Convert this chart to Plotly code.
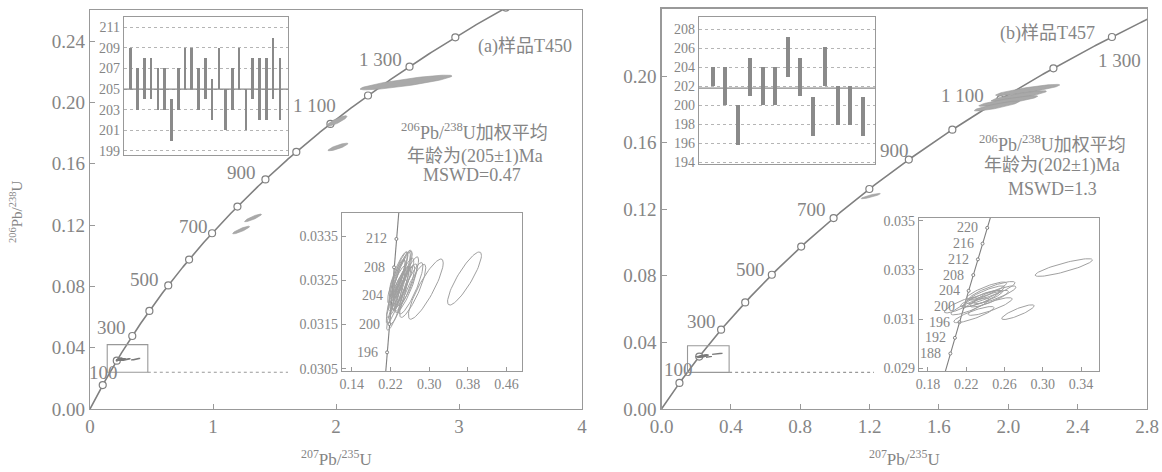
import numpy as np
import plotly.graph_objects as go

W, H = 1162, 472
OFF = 0                       # page body margin removed via post_script
L238, L235 = 1.55125e-10, 9.8485e-10   # decay constants (1/yr)

# ---------------- data : panel (a) sample T450 ----------------
bar_lo_a = [205, 203, 204, 204, 203, 203, 200, 203, 205, 205, 203, 204, 202, 205, 201, 203, 205, 201, 204, 202, 202, 204, 202]
bar_hi_a = [209, 207, 208, 208, 207, 207, 204, 207, 209, 209, 207, 208, 206, 209, 205, 207, 209, 205, 208, 208, 208, 210, 208]
mean_a = 205
# young zircon analyses (207Pb/235U, 1s-x, 206Pb/238U, 1s-y, rho)
x_a = [0.236, 0.241, 0.232, 0.247, 0.266, 0.243, 0.229, 0.252, 0.238, 0.245, 0.293, 0.234,
       0.231, 0.373, 0.228, 0.249, 0.242, 0.236, 0.256, 0.262, 0.239, 0.244, 0.233]
sx_a = [0.019, 0.017, 0.018, 0.021, 0.027, 0.019, 0.017, 0.023, 0.018, 0.020, 0.036, 0.017,
        0.019, 0.035, 0.017, 0.021, 0.019, 0.018, 0.022, 0.025, 0.020, 0.019, 0.018]
y_a = [0.03264, 0.03232, 0.03248, 0.03248, 0.03226, 0.03232, 0.03185, 0.03232, 0.03264, 0.03264, 0.03230, 0.03248,
       0.03216, 0.03254, 0.03201, 0.03232, 0.03264, 0.03201, 0.03248, 0.03232, 0.03232, 0.03264, 0.03232]
sy_a = [0.00050, 0.00048, 0.00050, 0.00052, 0.00060, 0.00050, 0.00048, 0.00055, 0.00050, 0.00052, 0.00068, 0.00048,
        0.00050, 0.00060, 0.00048, 0.00052, 0.00050, 0.00050, 0.00055, 0.00058, 0.00050, 0.00054, 0.00050]
rho_a = [0.87] * 23
# old (inherited) zircons, filled ellipses
ox_a = [2.569, 2.008, 2.016, 1.325, 1.228]
osx_a = [0.374, 0.081, 0.081, 0.069, 0.069]
oy_a = [0.2131, 0.1880, 0.1710, 0.1247, 0.1168]
osy_a = [0.0048, 0.0034, 0.0025, 0.0025, 0.0025]
orho_a = [0.88, 0.87, 0.86, 0.90, 0.90]
box_a = [0.14, 0.47, 0.024, 0.042]

# ---------------- data : panel (b) sample T457 ----------------
bar_lo_b = [202, 200, 195.8, 201, 200, 200, 203, 201, 196.8, 202, 197.9, 197.9, 196.8]
bar_hi_b = [204, 204, 200, 205, 204, 204, 207.2, 205, 200.9, 206.1, 202, 202, 200.9]
mean_b = 201.8
x_b = [0.240, 0.236, 0.228, 0.247, 0.244, 0.236, 0.322, 0.250, 0.274, 0.241, 0.224, 0.245, 0.214]
sx_b = [0.020, 0.022, 0.021, 0.024, 0.020, 0.019, 0.030, 0.022, 0.017, 0.021, 0.020, 0.023, 0.017]
y_b = [0.03199, 0.03183, 0.03118, 0.03215, 0.03183, 0.03183, 0.03310, 0.03199, 0.03128, 0.03215, 0.03151, 0.03151, 0.03157]
sy_b = [0.00036, 0.00034, 0.00033, 0.00038, 0.00034, 0.00034, 0.00036, 0.00036, 0.00030, 0.00036, 0.00034, 0.00036, 0.00032]
rho_b = [0.86] * 13
ox_b = [2.112, 2.060, 2.000, 1.934, 1.207]
osx_b = [0.185, 0.160, 0.170, 0.130, 0.055]
oy_b = [0.1916, 0.1880, 0.1850, 0.1820, 0.1279]
osy_b = [0.0034, 0.0032, 0.0032, 0.0030, 0.0016]
orho_b = [0.89, 0.89, 0.89, 0.89, 0.89]
box_b = [0.15, 0.39, 0.022, 0.038]

# concordia age markers / labels
marker_ages_a = [100, 200, 300, 400, 500, 600, 700, 800, 900, 1000, 1100, 1200, 1300, 1400, 1500]
marker_ages_b = [100, 200, 300, 400, 500, 600, 700, 800, 900, 1000, 1100, 1200, 1300]
label_ages = [100, 300, 500, 700, 900, 1100, 1300]
label_text = ["100", "300", "500", "700", "900", "1 100", "1 300"]
inset_ages_a = [196, 200, 204, 208, 212]
inset_ages_b = [188, 192, 196, 200, 204, 208, 212, 216, 220]

# ---------------- styling ----------------
FONT = "Liberation Serif, Noto Sans CJK SC, serif"
TXT = "#858585"
LINE = "#999999"
CURVE = "#808080"
label_shift_a = [(1, 13), (-21, 9), (-24, 6), (-19, 7), (-24, 7), (-16, 18), (-29, 7)]
label_shift_b = [(-1, 13), (-20, 8), (-21, 5), (-22, 9), (-14, 9), (-38, 4), (8, -23)]


def conc(t_ma):
    t = np.asarray(t_ma, dtype=float) * 1e6
    return np.exp(L235 * t) - 1, np.exp(L238 * t) - 1


def ellipse(x, sx, y, sy, rho, n=72):
    th = np.linspace(0, 2 * np.pi, n)
    cov = np.array([[sx * sx, rho * sx * sy], [rho * sx * sy, sy * sy]])
    Lc = np.linalg.cholesky(cov)
    p = Lc @ np.vstack([np.cos(th), np.sin(th)])
    return x + p[0], y + p[1]


def px2x(p):
    return (p - OFF) / W


def px2y(p):
    return 1 - (p - OFF) / H


def dx(p0, p1):
    return [px2x(p0), px2x(p1)]


def dy(top, bottom):
    return [px2y(bottom), px2y(top)]


fig = go.Figure()


def add_ellipses(xs, sxs, ys, sys_, rhos, xa, ya, color, width, fill=None):
    for x, sx, y, sy, r in zip(xs, sxs, ys, sys_, rhos):
        ex, ey = ellipse(x, sx, y, sy, r)
        kw = dict(fill="toself", fillcolor=fill) if fill else {}
        fig.add_trace(go.Scatter(x=ex, y=ey, mode="lines", line=dict(color=color, width=width),
                                 xaxis=xa, yaxis=ya, hoverinfo="skip", showlegend=False, **kw))


# ---- main concordia panels
for xa, ya, tmax, mages in [("x", "y", 1560, marker_ages_a), ("x2", "y2", 1400, marker_ages_b)]:
    cx, cy = conc(np.linspace(0, tmax, 400))
    fig.add_trace(go.Scatter(x=cx, y=cy, mode="lines", line=dict(color=CURVE, width=1.6),
                             xaxis=xa, yaxis=ya, hoverinfo="skip", showlegend=False))
    mx, my = conc(mages)
    fig.add_trace(go.Scatter(x=mx, y=my, mode="markers", xaxis=xa, yaxis=ya, showlegend=False,
                             marker=dict(symbol="circle", size=7, color="white",
                                         line=dict(color=CURVE, width=1.2))))

add_ellipses(ox_a, osx_a, oy_a, osy_a, orho_a, "x", "y", "#9a9a9a", 0.6, "#a9a9a9")
add_ellipses(ox_b, osx_b, oy_b, osy_b, orho_b, "x2", "y2", "#9a9a9a", 0.6, "#a9a9a9")
add_ellipses(x_a, sx_a, y_a, sy_a, rho_a, "x", "y", "#7a7a7a", 1.2)
add_ellipses(x_b, sx_b, y_b, sy_b, rho_b, "x2", "y2", "#7a7a7a", 1.2)

# ---- top insets: weighted-mean bars
fig.add_trace(go.Bar(x=list(range(1, len(bar_lo_a) + 1)), base=bar_lo_a,
                     y=[h - l for h, l in zip(bar_hi_a, bar_lo_a)], width=0.38,
                     marker=dict(color="#8a8a8a", line=dict(width=0)), xaxis="x3", yaxis="y3",
                     showlegend=False, hoverinfo="skip"))
fig.add_trace(go.Bar(x=list(range(1, len(bar_lo_b) + 1)), base=bar_lo_b,
                     y=[h - l for h, l in zip(bar_hi_b, bar_lo_b)], width=0.32,
                     marker=dict(color="#8a8a8a", line=dict(width=0)), xaxis="x5", yaxis="y5",
                     showlegend=False, hoverinfo="skip"))

# ---- bottom insets: zoomed concordia + ellipses
for xa, ya, ages in [("x4", "y4", inset_ages_a), ("x6", "y6", inset_ages_b)]:
    cx, cy = conc(np.linspace(170, 235, 200))
    fig.add_trace(go.Scatter(x=cx, y=cy, mode="lines", line=dict(color=CURVE, width=1.1),
                             xaxis=xa, yaxis=ya, hoverinfo="skip", showlegend=False))
    mx, my = conc(ages)
    fig.add_trace(go.Scatter(x=mx, y=my, mode="markers", xaxis=xa, yaxis=ya, showlegend=False,
                             marker=dict(symbol="circle", size=3, color="white",
                                         line=dict(color=CURVE, width=1))))
add_ellipses(x_a, sx_a, y_a, sy_a, rho_a, "x4", "y4", "#a0a0a0", 1.0)
add_ellipses(x_b, sx_b, y_b, sy_b, rho_b, "x6", "y6", "#a0a0a0", 1.0)

# ---------------- axes ----------------
dom_a = dx(90, 582)
dom_b = dx(661.5, 1147)
tickfont = dict(family=FONT, size=19, color=TXT)
smallfont = dict(family=FONT, size=14, color=TXT)
common = dict(showline=True, mirror=True, linecolor=LINE, linewidth=1.2, zeroline=False,
              showgrid=False, ticks="inside", ticklen=5, tickcolor=LINE, automargin=False)
frame_only = dict(showline=True, mirror=True, linecolor=LINE, linewidth=1.2, zeroline=False,
                  ticks="", automargin=False)

fig.update_layout(
    width=W, height=H, margin=dict(l=0, r=0, t=0, b=0, pad=0, autoexpand=False),
    paper_bgcolor="white", plot_bgcolor="white", showlegend=False, bargap=0,
    xaxis=dict(domain=dom_a, range=[0, 4], tickvals=[0, 1, 2, 3, 4], anchor="y", tickfont=tickfont, **common),
    yaxis=dict(domain=dy(10, 409), range=[0, 0.2604], tickvals=[0, 0.04, 0.08, 0.12, 0.16, 0.20, 0.24],
               tickformat=".2f", anchor="x", tickfont=tickfont, **common),
    xaxis2=dict(domain=dom_b, range=[0, 2.8], tickvals=[0, 0.4, 0.8, 1.2, 1.6, 2.0, 2.4, 2.8],
                tickformat=".1f", anchor="y2", tickfont=tickfont, **common),
    yaxis2=dict(domain=dy(8.6, 409), range=[0, 0.2405], tickvals=[0, 0.04, 0.08, 0.12, 0.16, 0.20, 0.24],
                tickformat=".2f", anchor="x2", tickfont=tickfont, **common),
    xaxis3=dict(domain=dx(124, 288), range=[0, 24.2], anchor="y3", showticklabels=False, showgrid=False,
                **frame_only),
    yaxis3=dict(domain=dy(17, 155), range=[198.6, 212.0], tickvals=list(range(199, 212, 2)), anchor="x3",
                showgrid=True, gridcolor="#b5b5b5", griddash="dot", gridwidth=1, tickfont=smallfont,
                **frame_only),
    xaxis4=dict(domain=dx(342, 522), range=[0.1197, 0.4919], tickvals=[0.14, 0.22, 0.30, 0.38, 0.46],
                tickformat=".2f", anchor="y4", tickfont=smallfont, **dict(common, ticklen=4)),
    yaxis4=dict(domain=dy(213, 371), range=[0.03045, 0.03402], tickvals=[0.0305, 0.0315, 0.0325, 0.0335],
                tickformat=".4f", anchor="x4", tickfont=smallfont, **dict(common, ticklen=4)),
    xaxis5=dict(domain=dx(699, 875), range=[-0.1, 14.0], anchor="y5", showticklabels=False, showgrid=False,
                **frame_only),
    yaxis5=dict(domain=dy(17, 164), range=[193.8, 209.3], tickvals=list(range(194, 209, 2)), anchor="x5",
                showgrid=True, gridcolor="#b5b5b5", griddash="dot", gridwidth=1, tickfont=smallfont,
                **frame_only),
    xaxis6=dict(domain=dx(919, 1099), range=[0.1706, 0.3588], tickvals=[0.18, 0.22, 0.26, 0.30, 0.34],
                tickformat=".2f", anchor="y6", tickfont=smallfont, **dict(common, ticklen=4)),
    yaxis6=dict(domain=dy(218, 371), range=[0.02888, 0.03512], tickvals=[0.029, 0.031, 0.033, 0.035],
                tickformat=".3f", anchor="x6", tickfont=smallfont, **dict(common, ticklen=4)),
)

# ---------------- shapes ----------------
shapes = []
for (mean, xa, ya) in [(mean_a, "x3", "y3"), (mean_b, "x5", "y5")]:
    shapes.append(dict(type="line", xref=xa + " domain", yref=ya, x0=0, x1=1, y0=mean, y1=mean,
                       line=dict(color="#8a8a8a", width=1.4)))
for box, xa, ya, dom, xr, xend in [(box_a, "x", "y", dom_a, 4.0, 288), (box_b, "x2", "y2", dom_b, 2.8, 874)]:
    shapes.append(dict(type="rect", xref=xa, yref=ya, x0=box[0], x1=box[1], y0=box[2], y1=box[3],
                       line=dict(color="#999999", width=1.1)))
    shapes.append(dict(type="line", xref="paper", yref=ya,
                       x0=dom[0] + box[1] / xr * (dom[1] - dom[0]), x1=px2x(xend), y0=box[2], y1=box[2],
                       line=dict(color="#999999", width=1.1, dash="dot")))
fig.update_layout(shapes=shapes)

# ---------------- annotations ----------------
ann = []
for ages_lbl, txt, shifts, xa, ya in [(label_ages, label_text, label_shift_a, "x", "y"),
                                       (label_ages, label_text, label_shift_b, "x2", "y2")]:
    lx, ly = conc(ages_lbl)
    for X, Y, t, (sx, sy) in zip(lx, ly, txt, shifts):
        ann.append(dict(x=X, y=Y, xref=xa, yref=ya, text=t, showarrow=False, xshift=sx, yshift=sy,
                        xanchor="center", yanchor="middle",
                        font=dict(family=FONT, size=19, color=TXT)))
for ages, xa, ya, xs in [(inset_ages_a, "x4", "y4", -7), (inset_ages_b, "x6", "y6", -7)]:
    lx, ly = conc(ages)
    for X, Y, a in zip(lx, ly, ages):
        ann.append(dict(x=X, y=Y, xref=xa, yref=ya, text=str(a), showarrow=False, xanchor="right",
                        yanchor="middle", xshift=xs, font=dict(family=FONT, size=14, color=TXT)))


def pann(text, px, py, size=18, **kw):
    ann.append(dict(x=px2x(px), y=px2y(py), xref="paper", yref="paper", text=text, showarrow=False,
                    xanchor="center", yanchor="middle",
                    font=dict(family=FONT, size=size, color=TXT), **kw))


pann("(a)样品T450", 525, 47)
pann("<sup>206</sup>Pb/<sup>238</sup>U加权平均", 474, 131)
pann("年龄为(205±1)Ma", 475, 156)
pann("MSWD=0.47", 472, 175)
pann("(b)样品T457", 1047, 33)
pann("<sup>206</sup>Pb/<sup>238</sup>U加权平均", 1052, 143)
pann("年龄为(202±1)Ma", 1052, 166)
pann("MSWD=1.3", 1052, 189)
pann("<sup>207</sup>Pb/<sup>235</sup>U", 336, 458, size=17)
pann("<sup>207</sup>Pb/<sup>235</sup>U", 904, 458, size=17)
pann("<sup>206</sup>Pb/<sup>238</sup>U", 16, 212, size=15, textangle=-90)
fig.update_layout(annotations=ann)

fig.write_html("out.html", config={"displayModeBar": False, "staticPlot": True},
               post_script="document.body.style.margin='0';document.body.style.overflow='hidden';")
